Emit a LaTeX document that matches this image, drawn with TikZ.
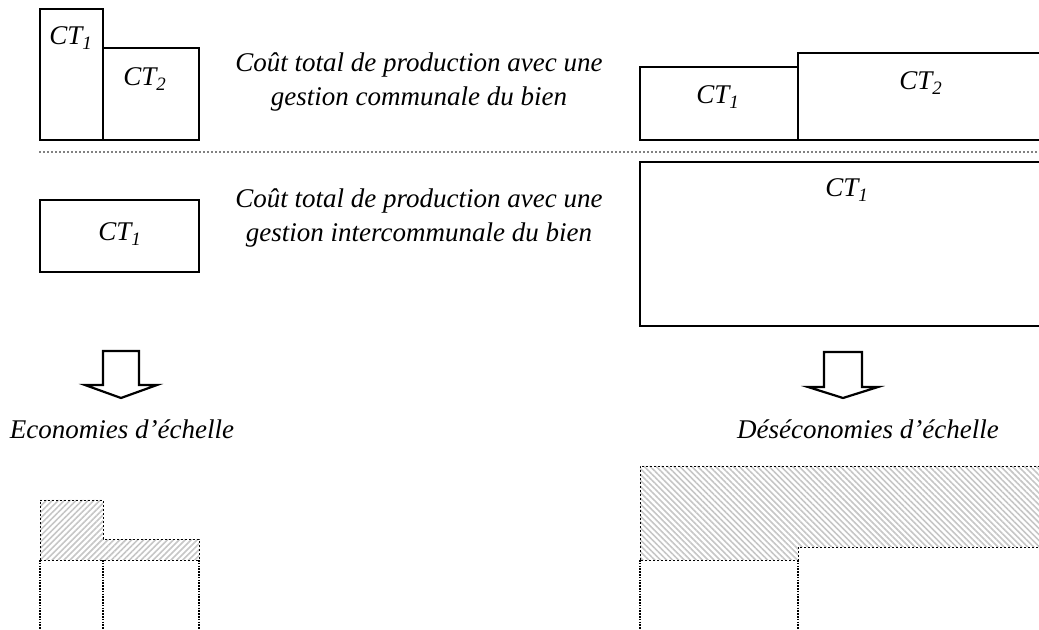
\documentclass[tikz,border=0pt]{standalone}
\usepackage{fontspec}
\setmainfont{Liberation Serif}
\usetikzlibrary{patterns.meta}
\tikzset{
  box/.style={draw=black, line width=1.1pt},
  lbl/.style={font=\fontsize{13.5}{17}\selectfont\itshape, inner sep=0pt},
  desc/.style={font=\fontsize{13.5}{17}\selectfont\itshape, align=center, inner sep=0pt},
  sep/.style={line width=0.8pt, line cap=round, dash pattern=on 0pt off 2pt},
  bigarrow/.style={draw=black, line width=1.1pt, fill=white, line join=miter},
  hatchL/.style={pattern={Lines[angle=45,distance=2.1pt,line width=0.8pt]}, pattern color=gray!45},
  hatchR/.style={pattern={Lines[angle=-45,distance=2.1pt,line width=0.8pt]}, pattern color=gray!45},
  thinedge/.style={line width=0.45pt, dash pattern=on 1pt off 1pt},
  thickdots/.style={line width=1pt, dash pattern=on 0.8pt off 0.6pt}
}
\begin{document}
\begin{tikzpicture}[x=0.5pt,y=-0.5pt]
\useasboundingbox (0,0) rectangle (1039,630);
\clip (0,0) rectangle (1039,630);
% top-left boxes
\draw[box] (40,9) rectangle (103,140);
\draw[box] (103,48) rectangle (199,140);
\node[lbl] (tl1) at (71,38) {CT\textsubscript{1}};
\node[lbl] (tl2) at (145,79) {CT\textsubscript{2}};
% descriptions
\node[desc] (d1) at (419,82) {Coût total de production avec une\\gestion communale du bien};
\node[desc] (d2) at (419,218) {Coût total de production avec une\\gestion intercommunale du bien};
% top-right boxes
\draw[box] (640,67) rectangle (798,140);
\draw[box] (798,53) rectangle (1050,140);
\node[lbl] (tr1) at (718,97) {CT\textsubscript{1}};
\node[lbl] (tr2) at (921,83) {CT\textsubscript{2}};
% separator
\coordinate (s0) at (40,152);
\coordinate (s1) at (1039,152);
\draw[sep] (s0) -- (s1);
% middle-left box
\draw[box] (40,200) rectangle (199,272);
\node[lbl] (ml1) at (120,234) {CT\textsubscript{1}};
% middle-right big box
\draw[box] (640,162) rectangle (1050,326);
\node[lbl] (mr1) at (847,190) {CT\textsubscript{1}};
% arrows
\draw[bigarrow] (103,351) -- (139,351) -- (139,385) -- (157,385) -- (121,398) -- (85,385) -- (103,385) -- cycle;
\draw[bigarrow] (824,352) -- (862,352) -- (862,387) -- (878,387) -- (843,398) -- (808,387) -- (824,387) -- cycle;
\node[lbl] (eco) at (122,429) {Economies d’échelle};
\node[lbl] (deseco) at (868,429) {Déséconomies d’échelle};
% bottom-left hatched
\fill[hatchL] (40,500) -- (103,500) -- (103,539) -- (199,539) -- (199,560) -- (40,560) -- cycle;
\draw[thinedge] (40,560) -- (40,500) -- (103,500) -- (103,539) -- (199,539) -- (199,560) -- cycle;
\draw[thickdots] (40,560) -- (40,630);
\draw[thickdots] (103,560) -- (103,630);
\draw[thickdots] (199,560) -- (199,630);
% bottom-right hatched
\fill[hatchR] (640,466) -- (1050,466) -- (1050,547) -- (798,547) -- (798,560) -- (640,560) -- cycle;
\draw[thinedge] (640,560) -- (640,466) -- (1050,466);
\draw[thinedge] (1050,547) -- (798,547) -- (798,560) -- (640,560);
\draw[thickdots] (640,560) -- (640,630);
\draw[thickdots] (798,560) -- (798,630);
\end{tikzpicture}
\end{document}
